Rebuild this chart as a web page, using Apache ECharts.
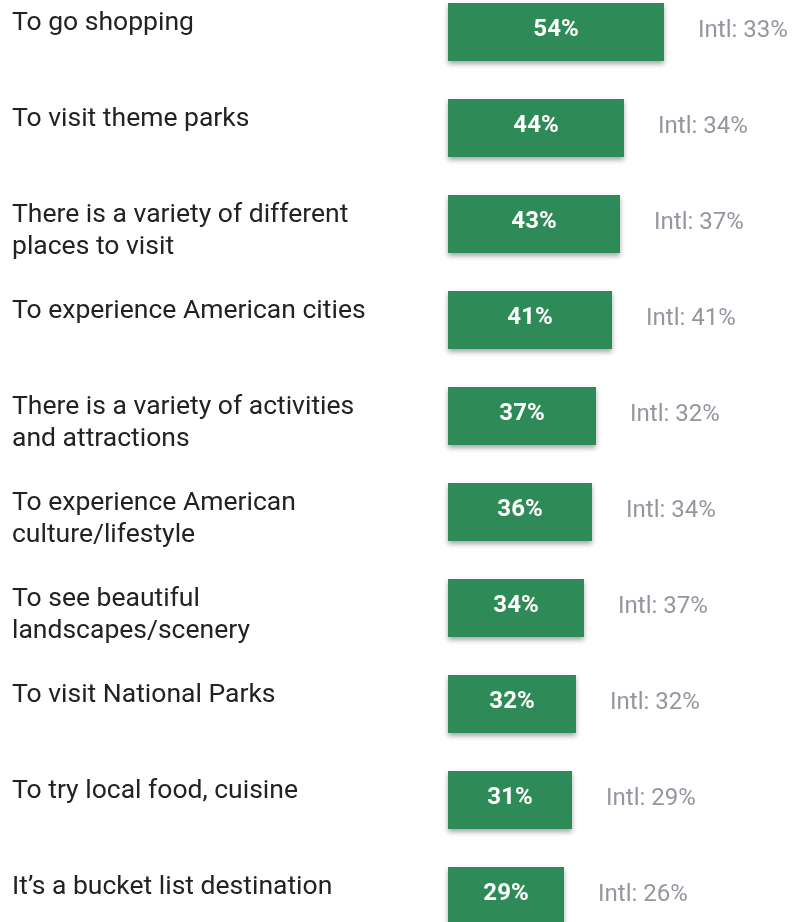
<!DOCTYPE html>
<html>
<head>
<meta charset="utf-8">
<script src="https://cdn.jsdelivr.net/npm/echarts@6/dist/echarts.min.js"></script>
<style>
html,body{margin:0;padding:0;background:#fff;overflow:hidden;width:792px;height:922px;}
#chart{position:absolute;left:0;top:-16px;width:792px;height:960px;}
</style>
</head>
<body>
<div id="chart"></div>
<script>
var categories = [
  "To go shopping",
  "To visit theme parks",
  "There is a variety of different\nplaces to visit",
  "To experience American cities",
  "There is a variety of activities\nand attractions",
  "To experience American\nculture/lifestyle",
  "To see beautiful\nlandscapes/scenery",
  "To visit National Parks",
  "To try local food, cuisine",
  "It\u2019s a bucket list destination"
];
var values = [54, 44, 43, 41, 37, 36, 34, 32, 31, 29];
var intlValues = [33, 34, 37, 41, 32, 34, 37, 32, 29, 26];

var chart = echarts.init(document.getElementById('chart'), null, {renderer: 'canvas'});
chart.setOption({
  animation: false,
  backgroundColor: '#ffffff',
  grid: {left: 448, right: 24, top: 0, bottom: 0, containLabel: false},
  xAxis: {
    type: 'value', min: 0, max: 80,
    show: false
  },
  yAxis: {
    type: 'category',
    data: categories,
    inverse: true,
    axisLine: {show: false},
    axisTick: {show: false},
    splitLine: {show: false},
    axisLabel: {
      align: 'left',
      margin: 436,
      verticalAlign: 'middle',
      formatter: function (v) {
        var lines = v.split('\n');
        if (lines.length < 2) lines.push(' ');
        return '{s| }\n' + lines.map(function (l) { return '{t|' + l + '}'; }).join('\n');
      },
      rich: {
        s: {fontSize: 1, lineHeight: 14, height: 14},
        t: {
          fontFamily: 'Roboto',
          fontSize: 26.5,
          lineHeight: 32,
          color: '#222222'
        }
      }
    }
  },
  series: [
    {
      type: 'bar',
      data: values,
      barWidth: 58,
      itemStyle: {
        color: '#2e8b57',
        shadowColor: 'rgba(0,0,0,0.35)',
        shadowBlur: 5,
        shadowOffsetY: 3
      },
      label: {
        show: true,
        position: 'inside',
        offset: [0, -2],
        formatter: '{c}%',
        color: '#ffffff',
        fontFamily: 'Roboto',
        fontWeight: 'bold',
        fontSize: 24
      },
      z: 2
    },
    {
      type: 'bar',
      data: values,
      barWidth: 58,
      barGap: '-100%',
      itemStyle: {color: 'rgba(0,0,0,0)'},
      label: {
        show: true,
        position: 'right',
        distance: 34,
        offset: [0, -1],
        formatter: function (p) { return 'Intl: ' + intlValues[p.dataIndex] + '%'; },
        color: '#96959f',
        fontFamily: 'Roboto',
        fontSize: 24
      },
      z: 1
    }
  ]
});
</script>
</body>
</html>
